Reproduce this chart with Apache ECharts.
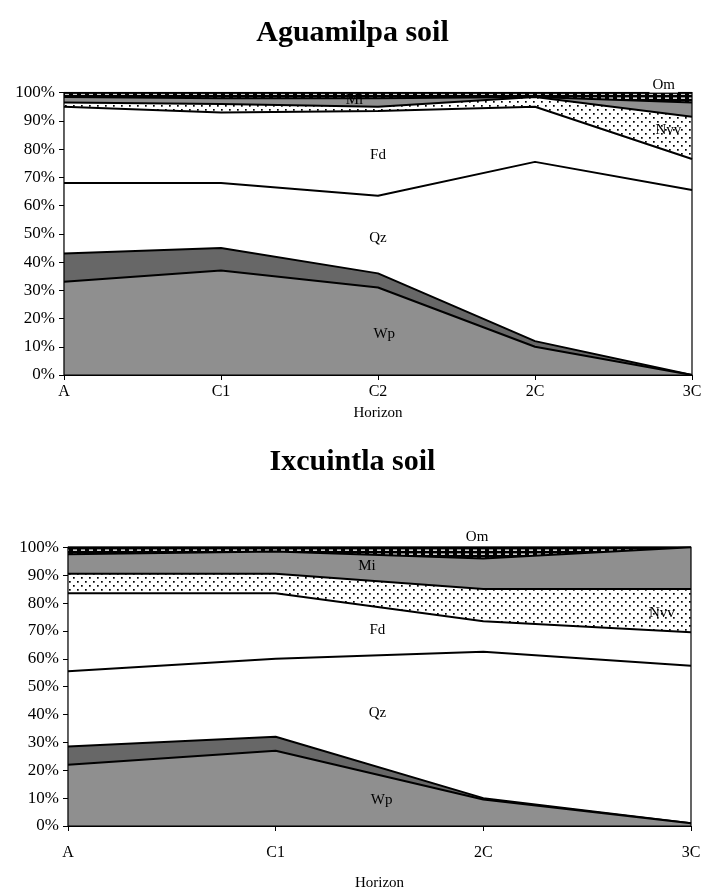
<!DOCTYPE html>
<html><head><meta charset="utf-8">
<script src="https://cdn.jsdelivr.net/npm/echarts@6/dist/echarts.min.js"></script>
<style>html,body{margin:0;padding:0;background:#fff}#c{width:705px;height:892px}</style>
</head><body><div id="c"></div>
<script>
// ---- Data ----
const aguaHorizons = ['A', 'C1', 'C2', '2C', '3C'];
const aguaWp   = [33, 37, 31, 10, 0];
const aguaDark = [10, 8, 5, 2, 0];
const aguaQz   = [25, 23, 27.5, 63.5, 65.5];
const aguaFd   = [27, 25, 30, 19.5, 11];
const aguaNvv  = [1.5, 3, 1.5, 3.5, 15];
const aguaMi   = [2, 2, 3, 0, 5];
const aguaOm   = [1.5, 2, 2, 1.5, 3.5];

const ixcuHorizons = ['A', 'C1', '2C', '3C'];
const ixcuWp   = [22, 27, 9.5, 1];
const ixcuDark = [6.5, 5, 0.5, 0];
const ixcuQz   = [27, 28, 52.5, 56.5];
const ixcuFd   = [28, 23.5, 11, 12];
const ixcuNvv  = [7, 7, 11.5, 15.5];
const ixcuMi   = [7, 8, 11, 15];
const ixcuOm   = [2.5, 1.5, 4, 0];

const yTickValues = [0, 10, 20, 30, 40, 50, 60, 70, 80, 90, 100];
const titles = ['Aguamilpa soil', 'Ixcuintla soil'];
const axisName = 'Horizon';
const layerNames = ['Wp', 'Dark', 'Qz', 'Fd', 'Nvv', 'Mi', 'Om'];

// annotation anchors: [name, fractional category index, percent]
const aguaLabels = [['Om', 3.82, 102.7], ['Mi', 1.85, 97.4], ['Nvv', 3.85, 86.8], ['Fd', 2.0, 77.9], ['Qz', 2.0, 48.5], ['Wp', 2.04, 14.5]];
const ixcuLabels = [['Om', 1.97, 103.6], ['Mi', 1.44, 93.1], ['Nvv', 2.86, 76.5], ['Fd', 1.49, 70.2], ['Qz', 1.49, 40.4], ['Wp', 1.51, 9.3]];

// ---- Patterns ----
function dotPattern() {
  const c = document.createElement('canvas'); c.width = 8; c.height = 8;
  const g = c.getContext('2d'); g.fillStyle = '#fff'; g.fillRect(0, 0, 8, 8);
  g.fillStyle = '#000'; g.fillRect(1, 1, 1.7, 1.7); g.fillRect(5, 5, 1.7, 1.7);
  return c;
}
function dashPattern() {
  const c = document.createElement('canvas'); c.width = 8; c.height = 4;
  const g = c.getContext('2d'); g.fillStyle = '#000'; g.fillRect(0, 0, 8, 4);
  g.fillStyle = '#fff'; g.fillRect(1, 1.5, 4, 1.3);
  return c;
}
const dots = { image: dotPattern(), repeat: 'repeat' };
const dashes = { image: dashPattern(), repeat: 'repeat' };
const fills = ['#8f8f8f', '#676767', '#ffffff', '#ffffff', dots, '#8f8f8f', dashes];

const serif = '"Liberation Serif", "Times New Roman", serif';

function buildSeries(g, arrays) {
  return arrays.map((arr, k) => ({
    name: layerNames[k], type: 'line', stack: 'g' + g,
    xAxisIndex: g, yAxisIndex: g,
    data: arr, showSymbol: false, symbol: 'none', silent: true,
    lineStyle: { color: '#000', width: 2 },
    areaStyle: { color: fills[k], opacity: 1 },
    z: 20 - k
  }));
}

const grids = [
  { left: 64, right: 13, top: 92.7, height: 282.3 },
  { left: 68, right: 14, top: 547.3, height: 280.4 }
];

function xAxisFor(g, cats, margin, gap) {
  return {
    type: 'category', gridIndex: g, data: cats, boundaryGap: false,
    axisLine: { lineStyle: { color: '#000', width: 1.2 } },
    axisTick: { show: true, length: 5, alignWithLabel: true, lineStyle: { color: '#000' } },
    axisLabel: { color: '#000', fontFamily: serif, fontSize: 16, margin: margin },
    name: axisName, nameLocation: 'middle', nameGap: gap,
    nameTextStyle: { color: '#000', fontFamily: serif, fontSize: 15 },
    splitLine: { show: false }
  };
}
function yAxisFor(g) {
  return {
    type: 'value', gridIndex: g, min: yTickValues[0], max: yTickValues[yTickValues.length - 1], interval: 10,
    axisLine: { show: true, lineStyle: { color: '#000', width: 1.2 } },
    axisTick: { show: true, length: 5, lineStyle: { color: '#000' } },
    axisLabel: { color: '#000', fontFamily: serif, fontSize: 17, margin: 9, formatter: v => v + '%' },
    splitLine: { show: false }
  };
}

const chart = echarts.init(document.getElementById('c'), null, { renderer: 'canvas' });
chart.setOption({
  backgroundColor: '#fff',
  animation: false,
  title: [
    { text: titles[0], left: 'center', top: 13, textStyle: { fontFamily: serif, fontWeight: 'bold', fontSize: 30, color: '#000' } },
    { text: titles[1], left: 'center', top: 442, textStyle: { fontFamily: serif, fontWeight: 'bold', fontSize: 30, color: '#000' } }
  ],
  grid: grids.map(gr => Object.assign({ show: true, borderColor: '#000', borderWidth: 1.2, backgroundColor: 'transparent', z: 30 }, gr)),
  xAxis: [xAxisFor(0, aguaHorizons, 9, 31), xAxisFor(1, ixcuHorizons, 19, 50)],
  yAxis: [yAxisFor(0), yAxisFor(1)],
  series: buildSeries(0, [aguaWp, aguaDark, aguaQz, aguaFd, aguaNvv, aguaMi, aguaOm])
    .concat(buildSeries(1, [ixcuWp, ixcuDark, ixcuQz, ixcuFd, ixcuNvv, ixcuMi, ixcuOm]))
});

function anchor(g, n, fi, y) {
  const i0 = Math.min(Math.floor(fi), n - 2);
  const t = fi - i0;
  const p0 = chart.convertToPixel({ gridIndex: g }, [i0, y]);
  const p1 = chart.convertToPixel({ gridIndex: g }, [i0 + 1, y]);
  return [p0[0] + (p1[0] - p0[0]) * t, p0[1]];
}
const graphics = [];
[[0, aguaLabels, aguaHorizons.length], [1, ixcuLabels, ixcuHorizons.length]].forEach(([g, labels, n]) => {
  labels.forEach(([txt, fi, y]) => {
    const p = anchor(g, n, fi, y);
    const isOm = txt === 'Om';
    graphics.push({
      type: 'text', x: p[0], y: p[1], z: 100,
      style: {
        text: txt, fill: '#000', font: '15px ' + serif, align: 'center', verticalAlign: 'middle',
        backgroundColor: isOm ? '#fff' : null, padding: isOm ? [0, 3] : 0
      }
    });
  });
});
chart.setOption({ graphic: graphics });
</script>
</body></html>
